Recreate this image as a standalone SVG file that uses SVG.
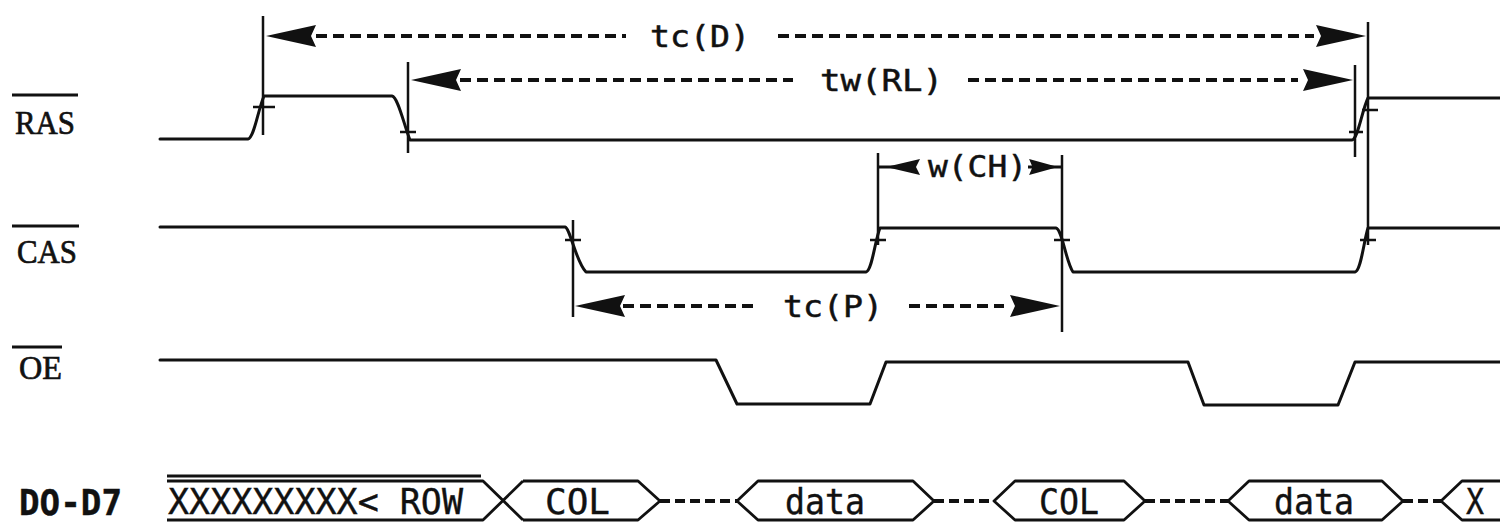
<svg xmlns="http://www.w3.org/2000/svg" width="1500" height="524" viewBox="0 0 1500 524">
<style>
.sig{fill:none;stroke:#111;stroke-width:3;stroke-linejoin:round;stroke-linecap:round}
.ref{fill:none;stroke:#111;stroke-width:2.5}
.tick{fill:none;stroke:#111;stroke-width:2.5}
.dash{fill:none;stroke:#111;stroke-width:4;stroke-dasharray:11 6}
.bdash{fill:none;stroke:#111;stroke-width:4;stroke-dasharray:10 5}
.bus{fill:none;stroke:#111;stroke-width:2.8;stroke-linejoin:round}
.ah{fill:#111}
.lbl{font-family:"Liberation Serif",serif;font-size:34px;fill:#111;stroke:#111;stroke-width:0.7}
.mono{font-family:"DejaVu Sans Mono","Liberation Mono",monospace;font-size:30px;fill:#111;stroke:#111;stroke-width:0.5}
.bmono{font-family:"DejaVu Sans Mono","Liberation Mono",monospace;font-size:36px;fill:#111;stroke:#111;stroke-width:0.4}
.bar{stroke:#111;stroke-width:3}
</style>
<defs>
<path id="ahL" d="M0,0 L50,-11 L45,0 L50,11 Z"/>
<path id="ahS" d="M0,0 L34,-8 L30,0 L34,8 Z"/>
</defs>
<rect width="1500" height="524" fill="#fff"/>
<g id="labels">
<g id="lbl-ras"><line class="bar" x1="12" y1="95" x2="78" y2="95"/><text class="lbl" x="15" y="134" textLength="60" lengthAdjust="spacingAndGlyphs">RAS</text></g>
<g id="lbl-cas"><line class="bar" x1="12" y1="226" x2="79" y2="226"/><text class="lbl" x="17" y="263" textLength="60" lengthAdjust="spacingAndGlyphs">CAS</text></g>
<g id="lbl-oe"><line class="bar" x1="12" y1="347" x2="62" y2="347"/><text class="lbl" x="19" y="379" textLength="43" lengthAdjust="spacingAndGlyphs">OE</text></g>
<g id="lbl-d"><text class="bmono" font-weight="bold" x="19" y="515" textLength="103" lengthAdjust="spacingAndGlyphs">DO-D7</text></g>
</g>
<g id="sig-ras">
<path class="sig" d="M160,139 H248 C254,138 258,110 264,96 H392 C398,97 404,125 410,140 H1352 C1358,139 1362,110 1368,98 H1500"/>
<path class="tick" d="M253,107 H275 M400,132 H416 M1349,132 H1363 M1362,110 H1378"/>
</g>
<g id="sig-cas">
<path class="sig" d="M160,227 H565 C570,228 576,262 586,272 H866 C872,271 875,240 880,228 H1056 C1062,229 1066,262 1073,272 H1355 C1361,271 1364,240 1368,228 H1500"/>
<path class="tick" d="M565,240 H581 M870,240 H886 M1054,240 H1070 M1360,240 H1376"/>
</g>
<g id="sig-oe">
<path class="sig" d="M160,360 H716 L737,404 H870 L886,362 H1188 L1204,405 H1338 L1355,362 H1500"/>
</g>
<g id="sig-bus">
<path class="bus" d="M167,476 H481"/>
<path class="bus" d="M167,481 H483 L523,520 M167,520 H483 L523,481"/>
<path class="bus" d="M523,481 H638 L660,501 L638,520 H523"/>
<path class="bus" d="M737,501 L758,481 H913 L934,501 L913,520 H758 Z"/>
<path class="bus" d="M994,501 L1015,481 H1124 L1145,501 L1124,520 H1015 Z"/>
<path class="bus" d="M1228,501 L1249,481 H1382 L1403,501 L1382,520 H1249 Z"/>
<path class="bus" d="M1500,481 H1462 L1441,501 L1462,520 H1500"/>
<path class="bdash" d="M660,501 H737 M934,501 H994 M1145,501 H1228 M1403,501 H1441"/>
<text class="bmono" x="168" y="514" textLength="295" lengthAdjust="spacingAndGlyphs">XXXXXXXXX&lt; ROW</text>
<text class="bmono" x="545" y="514" textLength="65" lengthAdjust="spacingAndGlyphs">COL</text>
<text class="bmono" x="785" y="514" textLength="80" lengthAdjust="spacingAndGlyphs">data</text>
<text class="bmono" x="1039" y="514" textLength="60" lengthAdjust="spacingAndGlyphs">COL</text>
<text class="bmono" x="1274" y="514" textLength="80" lengthAdjust="spacingAndGlyphs">data</text>
<text class="bmono" x="1466" y="514" textLength="18" lengthAdjust="spacingAndGlyphs">X</text>
</g>
<g id="connectors">
<path class="ref" d="M263,16 V135 M408,62 V153 M1355,65 V157 M1368,22 V245 M573,220 V317 M878,153 V245 M1062,155 V332"/>
<g id="dim-tcd">
<use href="#ahL" class="ah" transform="translate(266,36)"/>
<path class="dash" d="M316,36 H626 M778,36 H1314"/>
<use href="#ahL" class="ah" transform="translate(1366,36) scale(-1,1)"/>
<text class="mono" x="650" y="47" textLength="100" lengthAdjust="spacingAndGlyphs">tc(D)</text>
</g>
<g id="dim-twrl">
<use href="#ahL" class="ah" transform="translate(411,80)"/>
<path class="dash" d="M460,80 H793 M968,80 H1298"/>
<use href="#ahL" class="ah" transform="translate(1353,80) scale(-1,1)"/>
<text class="mono" x="820" y="91" textLength="123" lengthAdjust="spacingAndGlyphs">tw(RL)</text>
</g>
<g id="dim-twch">
<path class="ref" d="M878,167 H915 M1028,167 H1062" style="stroke-width:3"/>
<use href="#ahS" class="ah" transform="translate(886,167)"/>
<use href="#ahS" class="ah" transform="translate(1058,167) scale(-0.85,1)"/>
<text class="mono" x="928" y="177" textLength="99" lengthAdjust="spacingAndGlyphs">w(CH)</text>
</g>
<g id="dim-tcp">
<use href="#ahL" class="ah" transform="translate(575,306)"/>
<path class="dash" d="M623,306 H757 M909,306 H1004"/>
<use href="#ahL" class="ah" transform="translate(1060,306) scale(-1,1)"/>
<text class="mono" x="783" y="317" textLength="100" lengthAdjust="spacingAndGlyphs">tc(P)</text>
</g>
</g>
</svg>
